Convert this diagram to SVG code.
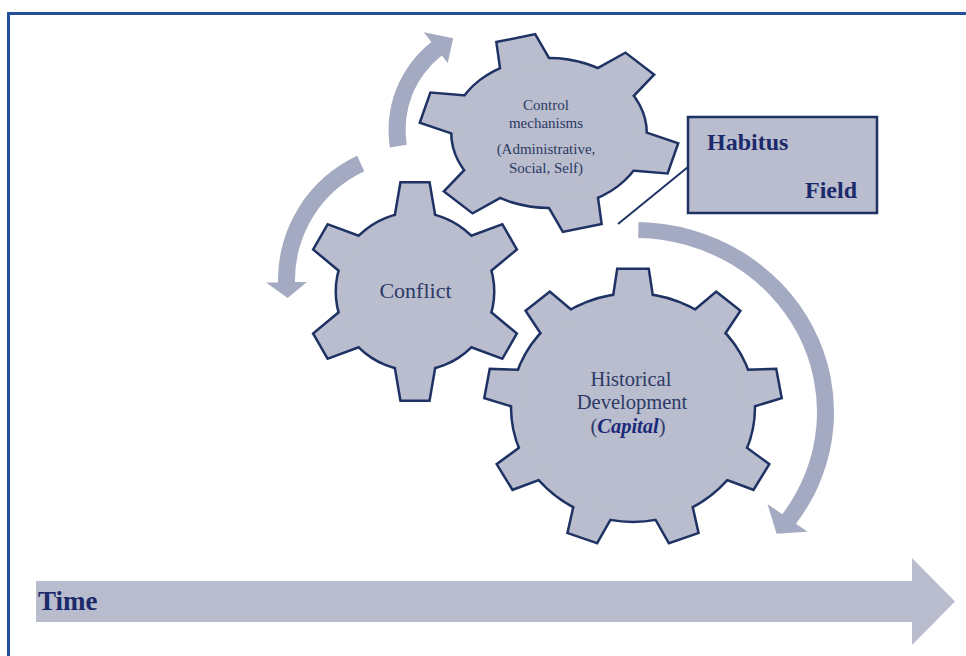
<svg xmlns="http://www.w3.org/2000/svg" xmlns:xlink="http://www.w3.org/1999/xlink" width="966" height="656" viewBox="0 0 966 656">
  <defs>
    <style>
      .edge { fill:#b9bdcd; stroke:#1f3264; stroke-width:5; stroke-linejoin:miter; }
      .face { fill:#b9bdcd; stroke:none; }
      .flow { fill:#a5aac3; }
      .lbl { font-family:"Liberation Serif","Times New Roman",serif; fill:#2c3a66; text-anchor:middle; }
      .key { font-family:"Liberation Serif","Times New Roman",serif; font-weight:bold; fill:#1c2a6c; }
    </style>
    <!-- six-tooth gear parts -->
    <circle id="body6" r="78" vector-effect="non-scaling-stroke"/>
    <polygon id="tooth6" points="-13.5,-108 13.5,-108 20,-70 -20,-70" vector-effect="non-scaling-stroke"/>
    <!-- control gear parts -->
    <circle id="bodyC" r="76" vector-effect="non-scaling-stroke"/>
    <polygon id="toothC" points="-15,-100 15,-100 20,-68 -20,-68" vector-effect="non-scaling-stroke"/>
    <!-- nine-tooth gear parts -->
    <circle id="body9" r="115" vector-effect="non-scaling-stroke"/>
    <polygon id="tooth9" points="-14,-140 14,-140 19,-105 -19,-105" vector-effect="non-scaling-stroke"/>
    <g id="set6">
      <use xlink:href="#body6"/>
      <use xlink:href="#tooth6"/>
      <use xlink:href="#tooth6" transform="rotate(60)"/>
      <use xlink:href="#tooth6" transform="rotate(120)"/>
      <use xlink:href="#tooth6" transform="rotate(180)"/>
      <use xlink:href="#tooth6" transform="rotate(240)"/>
      <use xlink:href="#tooth6" transform="rotate(300)"/>
    </g>
    <g id="setC">
      <use xlink:href="#bodyC"/>
      <use xlink:href="#toothC" transform="rotate(-15)"/>
      <use xlink:href="#toothC" transform="rotate(45)"/>
      <use xlink:href="#toothC" transform="rotate(105)"/>
      <use xlink:href="#toothC" transform="rotate(165)"/>
      <use xlink:href="#toothC" transform="rotate(225)"/>
      <use xlink:href="#toothC" transform="rotate(285)"/>
    </g>
    <g id="set9">
      <use xlink:href="#body9"/>
      <use xlink:href="#tooth9"/>
      <use xlink:href="#tooth9" transform="rotate(40)"/>
      <use xlink:href="#tooth9" transform="rotate(80)"/>
      <use xlink:href="#tooth9" transform="rotate(120)"/>
      <use xlink:href="#tooth9" transform="rotate(160)"/>
      <use xlink:href="#tooth9" transform="rotate(200)"/>
      <use xlink:href="#tooth9" transform="rotate(240)"/>
      <use xlink:href="#tooth9" transform="rotate(280)"/>
      <use xlink:href="#tooth9" transform="rotate(320)"/>
    </g>
  </defs>

  <rect width="966" height="656" fill="#ffffff"/>
  <!-- frame -->
  <path d="M8.5 656 V13.5 H966" fill="none" stroke="#22509a" stroke-width="3"/>

  <!-- connectors -->
  <g id="connectors">
    <path class="flow" d="M406.7 144.8 L389.9 147.4 A111.5 111.5 0 0 1 431.4 42.1 L423.7 32.3 L453.2 38.2 L447.7 63 L441.8 55.5 A94.5 94.5 0 0 0 406.7 144.8 Z"/>
    <path class="flow" d="M357.1 155.8 A137 137 0 0 0 278 282.4 L266 282.6 L287.7 297.9 L307 281.9 L295 282.1 A120 120 0 0 1 364.3 171.2 Z"/>
    <path class="flow" d="M638.5 222 A199 190 0 0 1 796 523.7 L807.6 531.8 L776.6 533.8 L767.5 504 L782.2 514.3 A182 174 0 0 0 638.2 238 Z"/>
    <line x1="618" y1="224" x2="688" y2="167" stroke="#1f3264" stroke-width="2"/>
  </g>

  <!-- Historical Development gear -->
  <g id="gear-history">
    <g transform="translate(633,407.6) scale(1.05,0.983)">
      <use xlink:href="#set9" class="edge"/>
      <use xlink:href="#set9" class="face"/>
    </g>
    <text class="lbl" x="631" y="386" font-size="20.5">Historical</text>
    <text class="lbl" x="632" y="409" font-size="20.5">Development</text>
    <text class="lbl" x="628" y="433" font-size="20.5">(<tspan font-weight="bold" font-style="italic" fill="#1c2a7a">Capital</tspan>)</text>
  </g>

  <!-- Conflict gear -->
  <g id="gear-conflict">
    <g transform="translate(415,291.5)">
      <use xlink:href="#set6" class="edge"/>
      <use xlink:href="#set6" class="face"/>
    </g>
    <text class="lbl" x="415.5" y="298" font-size="22">Conflict</text>
  </g>

  <!-- Control mechanisms gear -->
  <g id="gear-control">
    <g transform="translate(549,133) scale(1.27,0.97)">
      <use xlink:href="#setC" class="edge"/>
      <use xlink:href="#setC" class="face"/>
    </g>
    <text class="lbl" x="546" y="110" font-size="15">Control</text>
    <text class="lbl" x="546" y="128" font-size="15">mechanisms</text>
    <text class="lbl" x="546" y="154" font-size="15">(Administrative,</text>
    <text class="lbl" x="546" y="173" font-size="15">Social, Self)</text>
  </g>

  <!-- Habitus / Field box -->
  <g id="habitus-field">
    <rect x="688" y="117" width="189" height="96" fill="#b9bdcd" stroke="#1f3264" stroke-width="2.5"/>
    <text class="key" x="707" y="150" font-size="24">Habitus</text>
    <text class="key" x="857" y="198" font-size="24" text-anchor="end">Field</text>
  </g>

  <!-- Time axis -->
  <g id="time-axis">
    <polygon points="36,581 912,581 912,558 955,601.5 912,645 912,622 36,622" fill="#b8bccc"/>
    <text class="key" x="38" y="610" font-size="27">Time</text>
  </g>
</svg>
